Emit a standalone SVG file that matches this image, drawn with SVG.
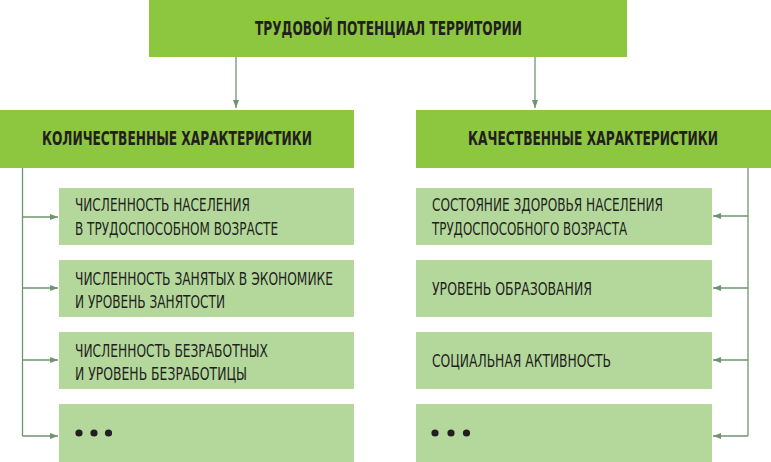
<svg xmlns="http://www.w3.org/2000/svg" width="771" height="462" viewBox="0 0 771 462">
<style>
.hdr{fill:#8dc63f}
.box{fill:#b4d89c}
.t{font-family:"Liberation Sans Narrow","DejaVu Sans Condensed","Liberation Sans",sans-serif;font-size:18px;fill:#231f20}
.b{font-weight:bold;font-size:19px}
.ln{stroke:#6f956f;stroke-width:1.3;fill:none}
.dot{fill:#231f20}
</style>
<defs>
<marker id="ah" viewBox="0 0 8 6" refX="8" refY="3" markerWidth="8" markerHeight="6" markerUnits="userSpaceOnUse" orient="auto">
<path d="M0,0 L8,3 L0,6 Z" fill="#6f956f"/>
</marker>
</defs>
<rect width="771" height="462" fill="#ffffff"/>
<g id="connectors">
<line class="ln" x1="236" y1="57" x2="236" y2="108" marker-end="url(#ah)"/>
<line class="ln" x1="535" y1="57" x2="535" y2="108" marker-end="url(#ah)"/>
<polyline class="ln" points="22.5,168 22.5,436"/>
<line class="ln" x1="22.5" y1="217" x2="58" y2="217" marker-end="url(#ah)"/>
<line class="ln" x1="22.5" y1="288" x2="58" y2="288" marker-end="url(#ah)"/>
<line class="ln" x1="22.5" y1="360" x2="58" y2="360" marker-end="url(#ah)"/>
<line class="ln" x1="22.5" y1="436" x2="58" y2="436" marker-end="url(#ah)"/>
<polyline class="ln" points="748,168 748,436"/>
<line class="ln" x1="748" y1="216" x2="713" y2="216" marker-end="url(#ah)"/>
<line class="ln" x1="748" y1="288" x2="713" y2="288" marker-end="url(#ah)"/>
<line class="ln" x1="748" y1="360" x2="713" y2="360" marker-end="url(#ah)"/>
<line class="ln" x1="748" y1="436" x2="713" y2="436" marker-end="url(#ah)"/>
</g>
<g id="root">
<rect class="hdr" x="149" y="0" width="478" height="57"/>
<text class="t b" x="255" y="35" textLength="267" lengthAdjust="spacingAndGlyphs">ТРУДОВОЙ ПОТЕНЦИАЛ ТЕРРИТОРИИ</text>
</g>
<g id="quant">
<rect class="hdr" x="0" y="110" width="354" height="58"/>
<text class="t b" x="42" y="145" textLength="270" lengthAdjust="spacingAndGlyphs">КОЛИЧЕСТВЕННЫЕ ХАРАКТЕРИСТИКИ</text>
</g>
<g id="qual">
<rect class="hdr" x="416" y="110" width="355" height="58"/>
<text class="t b" x="468" y="145" textLength="250" lengthAdjust="spacingAndGlyphs">КАЧЕСТВЕННЫЕ ХАРАКТЕРИСТИКИ</text>
</g>
<g id="l1">
<rect class="box" x="59" y="188" width="295" height="57"/>
<text class="t" x="75" y="211" textLength="175" lengthAdjust="spacingAndGlyphs">ЧИСЛЕННОСТЬ НАСЕЛЕНИЯ</text>
<text class="t" x="75" y="235" textLength="203" lengthAdjust="spacingAndGlyphs">В ТРУДОСПОСОБНОМ ВОЗРАСТЕ</text>
</g>
<g id="l2">
<rect class="box" x="59" y="260" width="295" height="57"/>
<text class="t" x="75" y="285" textLength="258" lengthAdjust="spacingAndGlyphs">ЧИСЛЕННОСТЬ ЗАНЯТЫХ В ЭКОНОМИКЕ</text>
<text class="t" x="75" y="308" textLength="150" lengthAdjust="spacingAndGlyphs">И УРОВЕНЬ ЗАНЯТОСТИ</text>
</g>
<g id="l3">
<rect class="box" x="59" y="332" width="295" height="57"/>
<text class="t" x="75" y="357" textLength="193" lengthAdjust="spacingAndGlyphs">ЧИСЛЕННОСТЬ БЕЗРАБОТНЫХ</text>
<text class="t" x="75" y="380" textLength="172" lengthAdjust="spacingAndGlyphs">И УРОВЕНЬ БЕЗРАБОТИЦЫ</text>
</g>
<g id="l4">
<rect class="box" x="59" y="404" width="295" height="58"/>
<circle class="dot" cx="79" cy="433" r="3.6"/>
<circle class="dot" cx="94" cy="433" r="3.6"/>
<circle class="dot" cx="108.5" cy="433" r="3.6"/>
</g>
<g id="r1">
<rect class="box" x="416" y="188" width="296" height="57"/>
<text class="t" x="432" y="211" textLength="231" lengthAdjust="spacingAndGlyphs">СОСТОЯНИЕ ЗДОРОВЬЯ НАСЕЛЕНИЯ</text>
<text class="t" x="432" y="235" textLength="195" lengthAdjust="spacingAndGlyphs">ТРУДОСПОСОБНОГО ВОЗРАСТА</text>
</g>
<g id="r2">
<rect class="box" x="416" y="260" width="296" height="57"/>
<text class="t" x="432" y="295" textLength="160" lengthAdjust="spacingAndGlyphs">УРОВЕНЬ ОБРАЗОВАНИЯ</text>
</g>
<g id="r3">
<rect class="box" x="416" y="332" width="296" height="57"/>
<text class="t" x="432" y="367" textLength="179" lengthAdjust="spacingAndGlyphs">СОЦИАЛЬНАЯ АКТИВНОСТЬ</text>
</g>
<g id="r4">
<rect class="box" x="416" y="404" width="296" height="58"/>
<circle class="dot" cx="435" cy="433" r="3.6"/>
<circle class="dot" cx="451" cy="433" r="3.6"/>
<circle class="dot" cx="466.5" cy="433" r="3.6"/>
</g>
</svg>
